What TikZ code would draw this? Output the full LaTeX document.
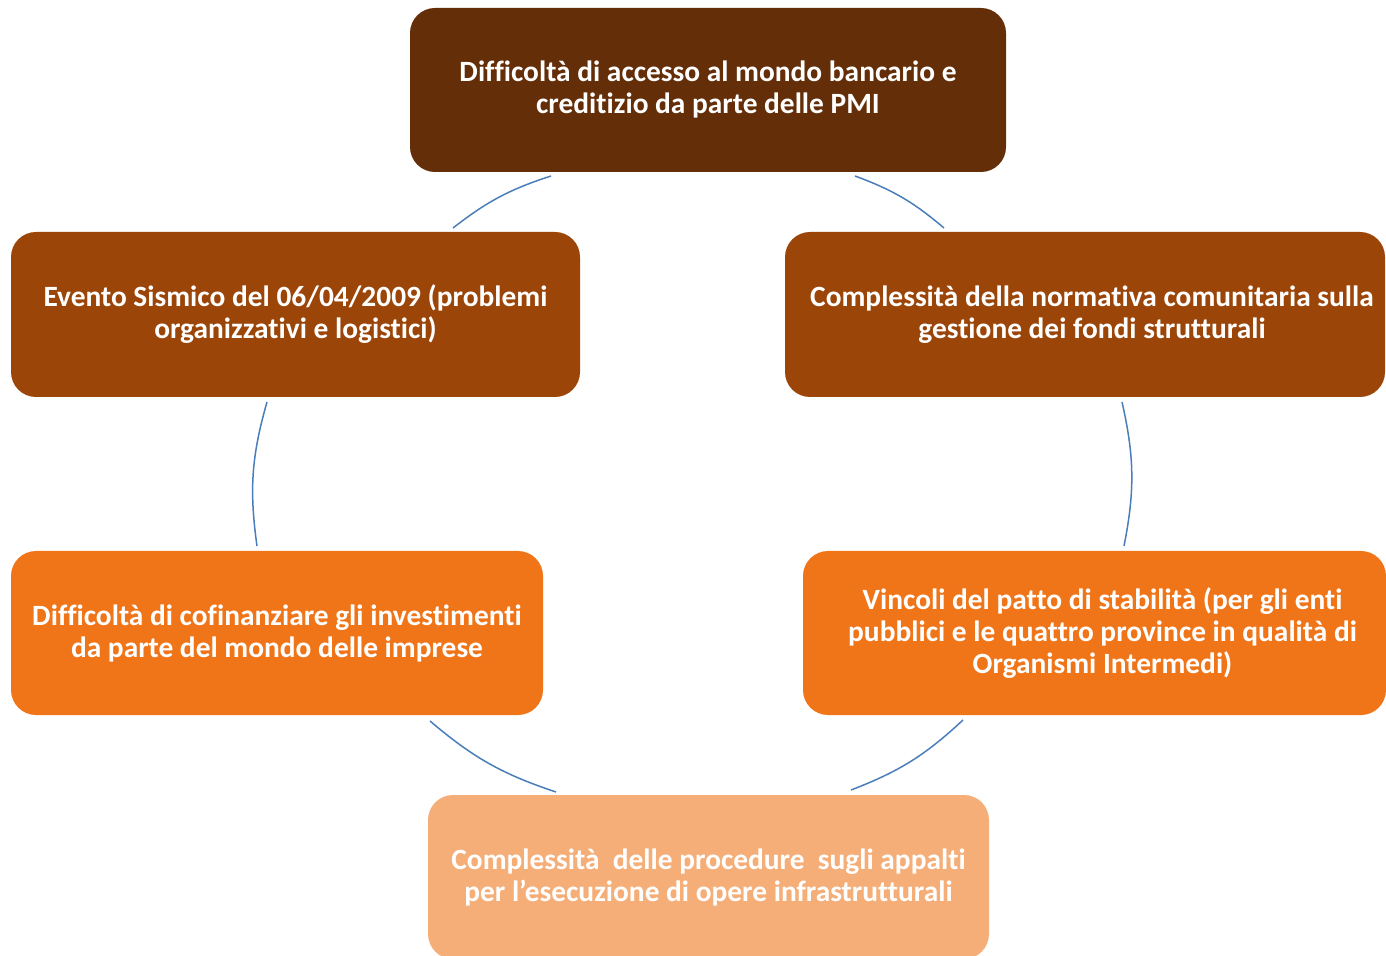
\documentclass[tikz,border=0pt]{standalone}
\usepackage{fontspec}
\setmainfont{Carlito}[Ligatures=NoCommon]
\definecolor{cTop}{RGB}{99,46,8}
\definecolor{cMid}{RGB}{155,69,8}
\definecolor{cOra}{RGB}{240,117,25}
\definecolor{cLight}{RGB}{245,174,120}
\definecolor{cArc}{RGB}{74,126,187}
\begin{document}
\begin{tikzpicture}[x=0.5pt,y=-0.5pt,
  box/.style={rounded corners=12.5pt, align=center, text=white,
    font=\fontsize{14.7pt}{16pt}\selectfont\bfseries, inner sep=0pt},
  arcline/.style={draw=cArc, line width=0.75pt}]
\useasboundingbox (0,0) rectangle (1386,956);
\node[box, fill=cTop, minimum width=298pt, minimum height=82pt] (top) at (708,90)
  {Difficoltà di accesso al mondo bancario e\\creditizio da parte delle PMI};
\node[box, fill=cMid, minimum width=284.5pt, minimum height=82.5pt] (lu) at (295.5,314.5)
  {Evento Sismico del 06/04/2009 (problemi\\organizzativi e logistici)};
\node[box, fill=cMid, minimum width=300pt, minimum height=82.5pt] (ru) at (1085,314.5)
  {\hspace*{7pt}Complessità della normativa comunitaria sulla\\\hspace*{7pt}gestione dei fondi strutturali};
\node[box, fill=cOra, minimum width=266pt, minimum height=82pt] (ll) at (277,633)
  {Difficoltà di cofinanziare gli investimenti\\da parte del mondo delle imprese};
\node[box, fill=cOra, minimum width=291.5pt, minimum height=82pt] (rl) at (1094.5,633)
  {\hspace*{8pt}Vincoli del patto di stabilità (per gli enti\\\hspace*{8pt}pubblici e le quattro province in qualità di\\\hspace*{8pt}Organismi Intermedi)};
\node[box, fill=cLight, minimum width=280.5pt, minimum height=82pt] (bot) at (708.5,877)
  {Complessità~ delle procedure~ sugli appalti\\per l’esecuzione di opere infrastrutturali};
% arc end points
\coordinate (a1s) at (551,176); \coordinate (a1e) at (453,228);
\coordinate (a2s) at (267,402); \coordinate (a2e) at (257,546);
\coordinate (a3s) at (430,721); \coordinate (a3e) at (556,792);
\coordinate (a4s) at (851,790); \coordinate (a4e) at (963,720);
\coordinate (a5s) at (1124,546); \coordinate (a5e) at (1122,402);
\coordinate (a6s) at (944,228); \coordinate (a6e) at (855,176);
\draw[arcline] (a1s) to[bend right=10] (a1e);
\draw[arcline] (a2s) to[bend right=12] (a2e);
\draw[arcline] (a3s) to[bend right=11] (a3e);
\draw[arcline] (a4s) to[bend right=11] (a4e);
\draw[arcline] (a5s) to[bend right=12] (a5e);
\draw[arcline] (a6s) to[bend right=10] (a6e);
\end{tikzpicture}
\end{document}
